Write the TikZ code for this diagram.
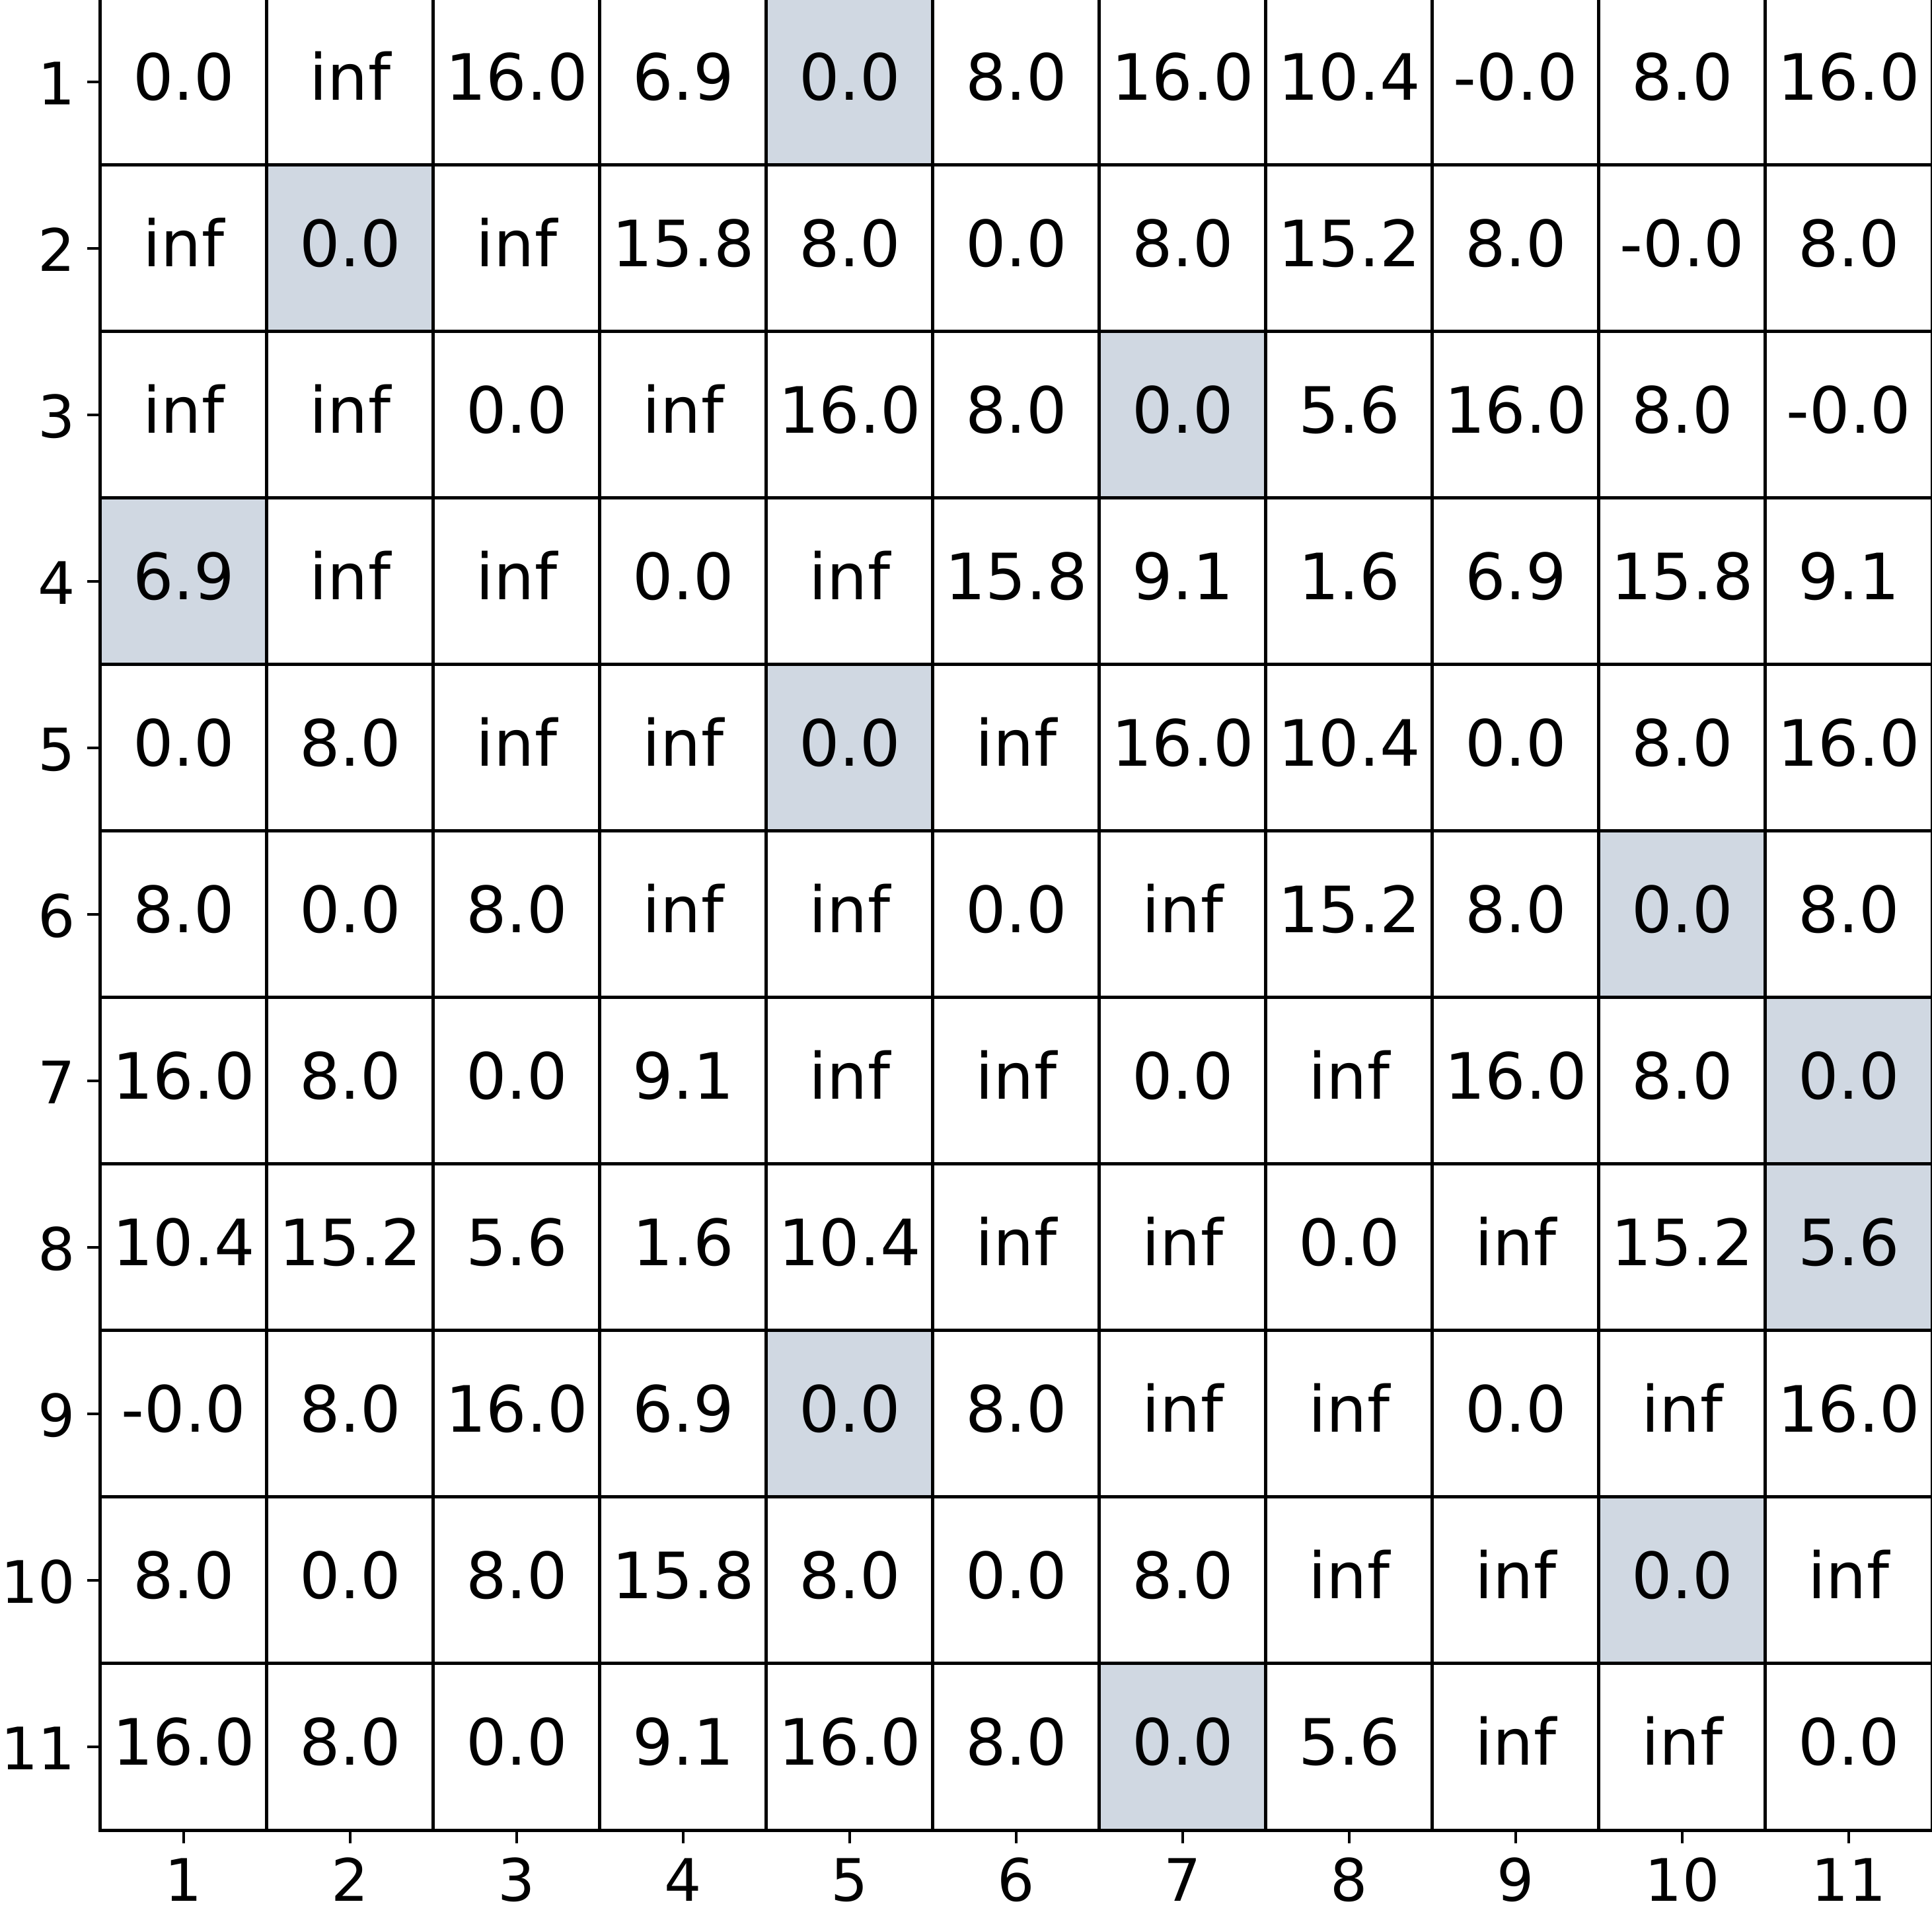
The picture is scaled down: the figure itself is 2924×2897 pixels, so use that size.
\documentclass[tikz,border=0pt]{standalone}
\usepackage{fontspec}
\setmainfont{DejaVu Sans}
\definecolor{hlcell}{RGB}{208,216,226}

\tikzset{
	cell/.style={draw, line width=1.42pt, minimum size=2.52cm, inner sep=0pt,
		text height=15.4pt, text depth=0pt, font=\fontsize{27.5}{33}\selectfont},
	ticklabel/.style={inner sep=0pt, font=\fontsize{25.2}{30}\selectfont},
	tickmark/.style={line width=1.2pt}
}

\begin{document}
\begin{tikzpicture}[x=0.01cm, y=-0.01cm]
		\useasboundingbox (0,0) rectangle (2924,2897);

		% cells: highlighted column / row values
		\foreach \hl/\vals [count=\r] in {
			5/{0.0,inf,16.0,6.9,0.0,8.0,16.0,10.4,-0.0,8.0,16.0},
			2/{inf,0.0,inf,15.8,8.0,0.0,8.0,15.2,8.0,-0.0,8.0},
			7/{inf,inf,0.0,inf,16.0,8.0,0.0,5.6,16.0,8.0,-0.0},
			1/{6.9,inf,inf,0.0,inf,15.8,9.1,1.6,6.9,15.8,9.1},
			5/{0.0,8.0,inf,inf,0.0,inf,16.0,10.4,0.0,8.0,16.0},
			10/{8.0,0.0,8.0,inf,inf,0.0,inf,15.2,8.0,0.0,8.0},
			11/{16.0,8.0,0.0,9.1,inf,inf,0.0,inf,16.0,8.0,0.0},
			11/{10.4,15.2,5.6,1.6,10.4,inf,inf,0.0,inf,15.2,5.6},
			5/{-0.0,8.0,16.0,6.9,0.0,8.0,inf,inf,0.0,inf,16.0},
			10/{8.0,0.0,8.0,15.8,8.0,0.0,8.0,inf,inf,0.0,inf},
			7/{16.0,8.0,0.0,9.1,16.0,8.0,0.0,5.6,inf,inf,0.0}%
		}{
			\foreach \v [count=\c] in \vals {
				\ifnum\c=\hl \def\cellfill{hlcell}\else\def\cellfill{white}\fi
				\node (c\r-\c) [cell, fill=\cellfill] at (26+252*\c, -128+252*\r) {\v};
			}
		}

		% ticks and tick labels
		\foreach \r in {1,...,11} {
			\draw [tickmark] (c\r-1.west) -- ++(-17,0);
			\node (yl\r) [ticklabel, anchor=base east] at (114.5, -93.5+252*\r) {\r};
		}
		\foreach \c in {1,...,11} {
			\draw [tickmark] (c11-\c.south) -- ++(0,17);
			\node (xl\c) [ticklabel, anchor=base] at (26+252*\c, 2877) {\c};
		}
	\end{tikzpicture}
\end{document}
